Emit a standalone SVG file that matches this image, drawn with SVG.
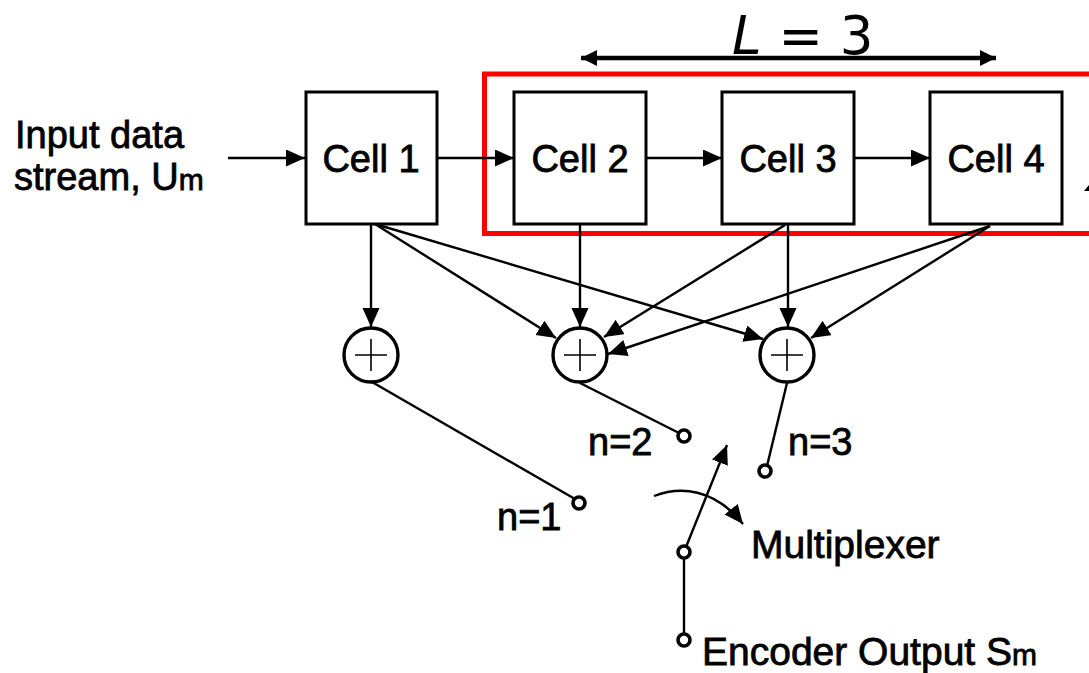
<svg xmlns="http://www.w3.org/2000/svg" width="1089" height="673" viewBox="0 0 1089 673">
<style>
.cell{fill:#fff;stroke:#000;stroke-width:3}
.t{font-family:"Liberation Sans",Arial,sans-serif;font-size:38px;fill:#000;stroke:#000;stroke-width:.8}
.w{font-size:39px}
.sub{font-size:30px}
.c{fill:none;stroke:#000;stroke-width:2.4}
.a{marker-end:url(#ah)}
.add{fill:#fff;stroke:#000;stroke-width:3.4}
.plus{stroke:#000;stroke-width:1.6;fill:none}
.term{fill:#fff;stroke:#000;stroke-width:3.6}
</style>
<defs>
<marker id="ah" markerUnits="userSpaceOnUse" markerWidth="22" markerHeight="20" refX="19" refY="8.500" orient="auto"><path d="M0,0L19,8.500L0,17Z" fill="#000"/></marker>
<marker id="ad" markerUnits="userSpaceOnUse" markerWidth="20" markerHeight="18" refX="16" refY="8" orient="auto-start-reverse"><path d="M0,0L16,8L0,16Z" fill="#000"/></marker>
</defs>
<rect id="span-box" x="484.500" y="74" width="640" height="159.500" fill="none" stroke="#f00" stroke-width="5"/>
<g id="connectors">
<path class="c a" d="M228,158H305"/>
<path class="c a" d="M438,158H514"/>
<path class="c a" d="M646,158H722"/>
<path class="c a" d="M854,158H930"/>
<path class="c a" d="M371,224V327"/>
<path class="c a" d="M375,224L556,338"/>
<path class="c a" d="M375,224L763,339"/>
<path class="c a" d="M580,224V327"/>
<path class="c a" d="M785,225L604,337"/>
<path class="c a" d="M990,226L608,354"/>
<path class="c a" d="M788,224V327"/>
<path class="c a" d="M990,226L811,338"/>
<path class="c" d="M372,382L575,499"/>
<path class="c" d="M580,383L679,433"/>
<path class="c" d="M787,383L767,466"/>
<path class="c a" d="M686,547L727,445"/>
<path class="c" d="M684,552V640"/>
<path class="c a" d="M654,496C680,486 714,488 743,524"/>
<path d="M581,58H996" stroke="#000" stroke-width="4.500" fill="none" marker-start="url(#ad)" marker-end="url(#ad)"/>
<path d="M1084,191L1089,185V191Z" fill="#000"/>
</g>
<g id="cell-1"><rect class="cell" x="306" y="92" width="131" height="132"/><text class="t" x="371" y="172" text-anchor="middle">Cell 1</text></g>
<g id="cell-2"><rect class="cell" x="514" y="92" width="132" height="132"/><text class="t" x="580" y="172" text-anchor="middle">Cell 2</text></g>
<g id="cell-3"><rect class="cell" x="722" y="92" width="132" height="132"/><text class="t" x="788" y="172" text-anchor="middle">Cell 3</text></g>
<g id="cell-4"><rect class="cell" x="930" y="92" width="132" height="132"/><text class="t" x="996" y="172" text-anchor="middle">Cell 4</text></g>
<g id="adder-1"><circle class="add" cx="371" cy="355" r="27"/><path class="plus" d="M355,355H387M371,339V371"/></g>
<g id="adder-2"><circle class="add" cx="580" cy="355" r="27"/><path class="plus" d="M564,355H596M580,339V371"/></g>
<g id="adder-3"><circle class="add" cx="787" cy="355" r="27"/><path class="plus" d="M771,355H803M787,339V371"/></g>
<g id="term-1"><circle class="term" cx="579" cy="503" r="6"/></g>
<g id="term-2"><circle class="term" cx="684" cy="436" r="6"/></g>
<g id="term-3"><circle class="term" cx="765" cy="471" r="6"/></g>
<g id="term-mux"><circle class="term" cx="684" cy="552" r="6"/></g>
<g id="term-out"><circle class="term" cx="684" cy="640" r="6"/></g>
<g id="labels">
<text class="t" x="15" y="148">Input data</text>
<text class="t" x="14" y="190">stream, U<tspan class="sub">m</tspan></text>
<text class="t" x="588" y="455">n=2</text>
<text class="t" x="788" y="455">n=3</text>
<text class="t" x="497" y="530">n=1</text>
<text class="t w" x="751" y="558">Multiplexer</text>
<text class="t w" x="702" y="665">Encoder Output S<tspan class="sub">m</tspan></text>
<text x="732" y="54" font-family="'DejaVu Sans',sans-serif" font-size="53" fill="#000" xml:space="preserve"><tspan font-style="italic">L</tspan> = 3</text>
</g>
</svg>
